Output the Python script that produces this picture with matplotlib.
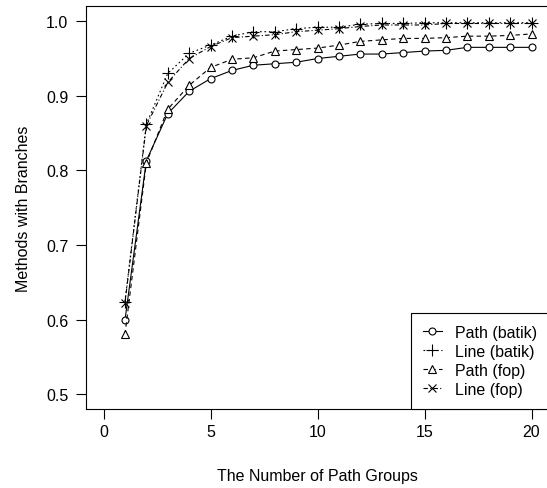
import matplotlib
matplotlib.use("Agg")
import matplotlib.pyplot as plt

plt.rcParams['font.family'] = ['Liberation Sans', 'DejaVu Sans']

x = list(range(1, 21))
path_batik = [0.599, 0.813, 0.876, 0.906, 0.923, 0.934, 0.941, 0.943, 0.945, 0.950,
              0.953, 0.956, 0.956, 0.958, 0.960, 0.961, 0.965, 0.965, 0.965, 0.965]
line_batik = [0.624, 0.862, 0.930, 0.957, 0.968, 0.980, 0.986, 0.986, 0.990, 0.992,
              0.992, 0.996, 0.997, 0.997, 0.998, 0.998, 0.998, 0.998, 0.998, 0.998]
path_fop = [0.580, 0.810, 0.882, 0.914, 0.938, 0.949, 0.951, 0.960, 0.962, 0.964,
            0.968, 0.973, 0.975, 0.977, 0.977, 0.978, 0.980, 0.980, 0.981, 0.983]
line_fop = [0.622, 0.860, 0.918, 0.950, 0.966, 0.978, 0.980, 0.982, 0.986, 0.988,
            0.990, 0.993, 0.995, 0.995, 0.995, 0.997, 0.997, 0.997, 0.997, 0.997]

labels = ['Path (batik)', 'Line (batik)', 'Path (fop)', 'Line (fop)']
xticks = [0, 5, 10, 15, 20]
yticks = [0.5, 0.6, 0.7, 0.8, 0.9, 1.0]

fig = plt.figure(figsize=(5.47, 4.89), dpi=100)
ax = fig.add_axes([0.158, 0.1616, 0.845, 0.8234])

lw = 0.8
ax.plot(x, path_batik, color='black', lw=lw, linestyle='-', marker='o', ms=5,
        mfc='white', mec='black', mew=0.8, label=labels[0])
ax.plot(x, line_batik, color='black', lw=lw, linestyle=(0, (1.5, 2.5)), marker='+', ms=8,
        mew=0.8, label=labels[1])
ax.plot(x, path_fop, color='black', lw=lw, linestyle=(0, (4, 3)), marker='^', ms=6,
        mfc='white', mec='black', mew=0.8, label=labels[2])
ax.plot(x, line_fop, color='black', lw=lw, linestyle=(0, (4, 2, 1, 2)), marker='x', ms=6,
        mew=0.8, label=labels[3])

ax.set_xlim(-0.8, 20.8)
ax.set_ylim(0.48, 1.02)
ax.set_xticks(xticks)
ax.set_yticks(yticks)
ax.set_xticklabels([str(t) for t in xticks])
ax.set_yticklabels([f"{t:.1f}" for t in yticks])
ax.tick_params(axis='both', direction='out', length=7, width=0.8, labelsize=11.5, color='black')
ax.tick_params(axis='x', pad=4)
ax.tick_params(axis='y', pad=6)
for s in ax.spines.values():
    s.set_linewidth(0.8)

ax.set_xlabel('The Number of Path Groups', fontsize=11.5, labelpad=21)
ax.set_ylabel('Methods with Branches', fontsize=11.5, labelpad=11)

leg = ax.legend(loc='lower right', borderaxespad=0, fontsize=11.5, handlelength=1.2,
                handletextpad=0.8, labelspacing=0.25, fancybox=False, framealpha=1,
                edgecolor='black', borderpad=0.75)
leg.get_frame().set_linewidth(0.8)

fig.savefig('out.png', dpi=100)
